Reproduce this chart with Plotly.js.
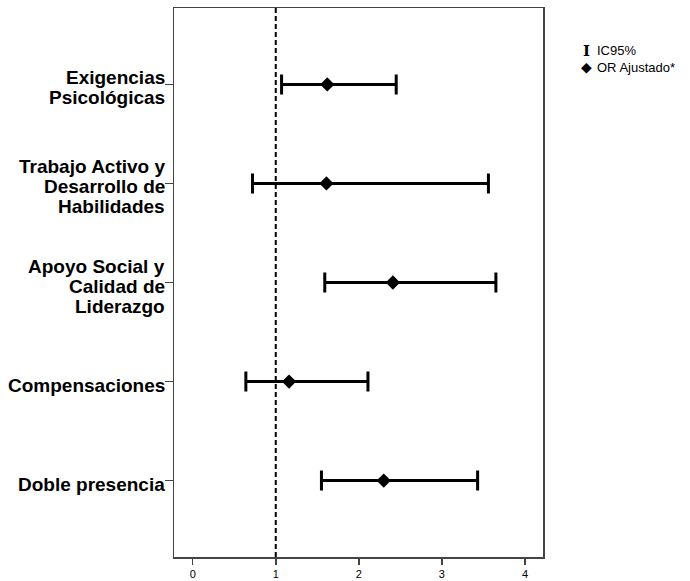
<!DOCTYPE html>
<html>
<head>
<meta charset="utf-8">
<script src="https://cdn.plot.ly/plotly-3.0.1.min.js"></script>
<style>html,body{margin:0;padding:0;background:#fff;}#chart{width:690px;height:581px;}</style>
</head>
<body>
<div id="chart"></div>
<script>
// Data
const categories = [
  "Exigencias<br>Psicológicas",
  "Trabajo Activo y<br>Desarrollo de<br>Habilidades",
  "Apoyo Social y<br>Calidad de<br>Liderazgo",
  "Compensaciones",
  "Doble presencia"
];
const positions = [1, 2, 3, 4, 5];
const orAjustado = [1.62, 1.61, 2.41, 1.16, 2.30];
const icLower   = [1.07, 0.72, 1.59, 0.64, 1.55];
const icUpper   = [2.45, 3.56, 3.65, 2.11, 3.43];
const xTicks = [0, 1, 2, 3, 4];
const refLine = 1;
const legendLabels = ["IC95%", "OR Ajustado*"];

const errPlus = orAjustado.map((v, i) => icUpper[i] - v);
const errMinus = orAjustado.map((v, i) => v - icLower[i]);

const trace = {
  type: 'scatter',
  mode: 'markers',
  x: orAjustado,
  y: positions,
  marker: {symbol: 'diamond', size: 11, color: '#000'},
  error_x: {
    type: 'data', symmetric: false,
    array: errPlus, arrayminus: errMinus,
    color: '#000', thickness: 3, width: 10
  },
  showlegend: false,
  hoverinfo: 'x+y'
};

const labelFont = {family: 'Liberation Sans, Arial, sans-serif', size: 19, color: '#000'};
const annotations = [];
categories.forEach((c, i) => {
  const lines = c.split('<br>');
  const n = lines.length;
  lines.forEach((ln, j) => {
    const off = (j - (n - 1) / 2) * 20 + 3.5;
    annotations.push({
      xref: 'paper', yref: 'y', x: 0, y: positions[i],
      xanchor: 'right', yanchor: 'middle', xshift: -7, yshift: -off,
      text: '<b>' + ln + '</b>', showarrow: false, font: labelFont
    });
  });
});

// Legend (drawn as text)
const legFont = {family: 'Liberation Sans, Arial, sans-serif', size: 13, color: '#000'};
annotations.push({xref:'paper', yref:'paper', x:1.118, y:0.922, xanchor:'center', yanchor:'middle',
  text:'<b>I</b>', showarrow:false, font:{family:'DejaVu Serif, serif', size:15, color:'#000'}});
annotations.push({xref:'paper', yref:'paper', x:1.14, y:0.922, xanchor:'left', yanchor:'middle',
  text:legendLabels[0], showarrow:false, font:legFont});
annotations.push({xref:'paper', yref:'paper', x:1.118, y:0.8925, xanchor:'center', yanchor:'middle',
  text:'◆', showarrow:false, font:{family:'DejaVu Sans, sans-serif', size:14, color:'#000'}});
annotations.push({xref:'paper', yref:'paper', x:1.14, y:0.8925, xanchor:'left', yanchor:'middle',
  text:legendLabels[1], showarrow:false, font:legFont});

const layout = {
  width: 690, height: 581,
  margin: {l: 174, r: 147, t: 8, b: 24, pad: 0},
  paper_bgcolor: '#fff', plot_bgcolor: '#fff',
  xaxis: {
    range: [-0.225, 4.217], tickvals: xTicks, ticktext: xTicks.map(String),
    ticks: 'outside', ticklen: 6, tickwidth: 1.5, tickcolor: '#444',
    showline: true, linecolor: '#444', linewidth: 1.5, mirror: true,
    showgrid: false, zeroline: false, automargin: false,
    tickfont: {family: 'Liberation Sans, Arial, sans-serif', size: 11, color: '#000'}
  },
  yaxis: {
    range: [5.772, 0.228], tickvals: positions, ticktext: positions.map(() => ''),
    ticks: 'outside', ticklen: 8, tickwidth: 1.5, tickcolor: '#444',
    showline: true, linecolor: '#444', linewidth: 1.5, mirror: true,
    showgrid: false, zeroline: false, showticklabels: false
  },
  shapes: [{
    type: 'line', xref: 'x', yref: 'paper', x0: refLine, x1: refLine, y0: 0, y1: 1,
    line: {color: '#000', width: 2, dash: '5px,3px'}
  }],
  annotations: annotations,
  showlegend: false
};

Plotly.newPlot('chart', [trace], layout, {displayModeBar: false, staticPlot: true});
</script>
</body>
</html>
